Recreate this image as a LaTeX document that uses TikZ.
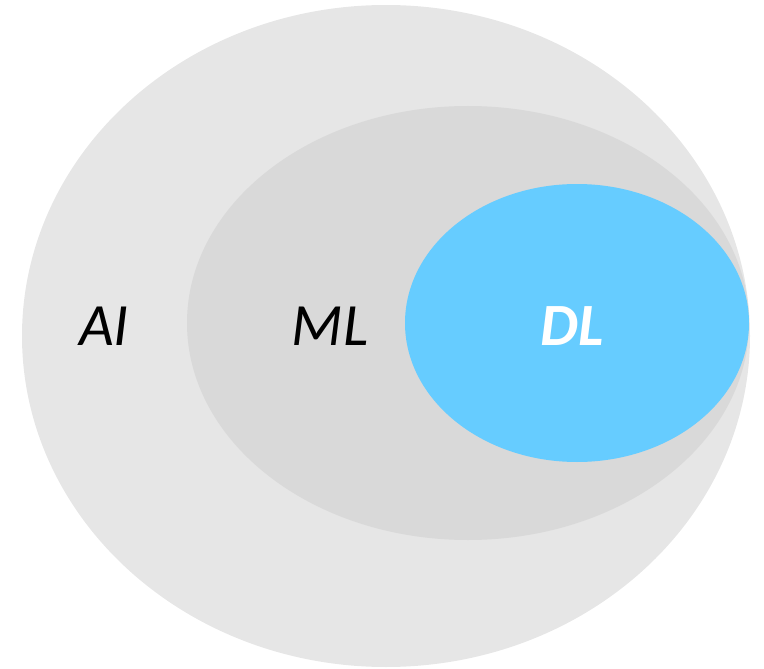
\documentclass[tikz,border=0pt]{standalone}
\usepackage{fontspec}
\setmainfont{Carlito}
\definecolor{outerg}{HTML}{E6E6E6}
\definecolor{midg}{HTML}{D9D9D9}
\definecolor{dlblue}{HTML}{66CCFF}
\begin{document}
\begin{tikzpicture}[x=1pt,y=-1pt,
  lbl/.style={font=\fontsize{60}{60}\selectfont\itshape, text=black, inner sep=0pt}]
\useasboundingbox (0,0) rectangle (764,669);
\fill[outerg] (386,336) ellipse [x radius=364, y radius=331];
\fill[midg] (468,323) ellipse [x radius=281, y radius=217];
\fill[dlblue] (577,323) ellipse [x radius=172, y radius=139];
\node[lbl] (ai) at (104,326) {AI};
\node[lbl] (ml) at (330,326) {ML};
\node[lbl, font=\fontsize{60}{60}\selectfont\bfseries\itshape, text=white] (dl) at (572,326) {DL};
\end{tikzpicture}
\end{document}
